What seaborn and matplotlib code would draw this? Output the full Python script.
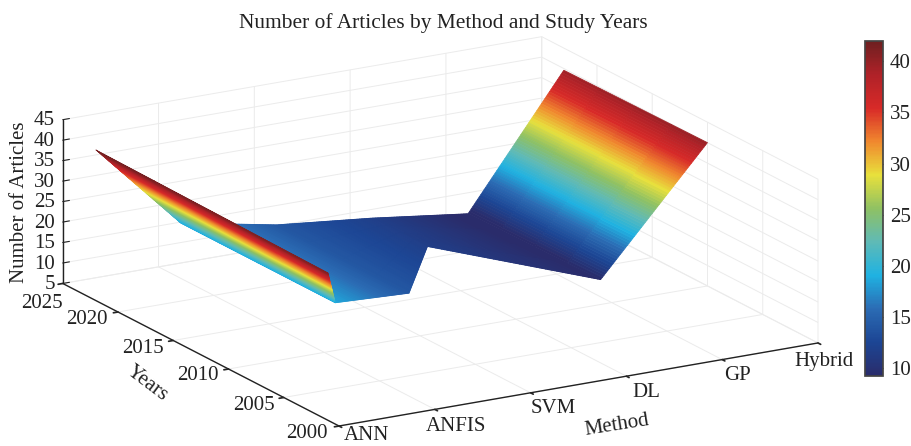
import numpy as np
import pandas as pd
import seaborn as sns
import matplotlib.pyplot as plt
from matplotlib.cm import ScalarMappable
from matplotlib.colors import Normalize
from mpl_toolkits.mplot3d import proj3d

methods = ['ANN', 'ANFIS', 'SVM', 'DL', 'GP', 'Hybrid']
first_year = [2001, 2009, 2011, 2018, 2011, 2010]
last_year = [2022, 2023, 2023, 2023, 2023, 2023]
articles_first = [41.0, 18.5, 14.0, 11.6, 9.2, 40.0]
articles_last = [41.8, 18.5, 14.0, 11.6, 8.6, 39.6]
year_ticks = [2000, 2005, 2010, 2015, 2020, 2025]
article_ticks = [5, 10, 15, 20, 25, 30, 35, 40, 45]
bar_ticks = [10, 15, 20, 25, 30, 35, 40]
color_stops = ['#2a2c6b', '#1c4594', '#2b6cb4', '#1fb2e2', '#5fbab6', '#8fc163',
               '#e8e03c', '#f0882e', '#d82a28', '#b02228', '#6e1f20']

# pixel nudges of the tick labels from their ticks
method_dx = [27, 21, 23, 20, 15, 6]
method_dy = [10, 17, 16, 16, 16, 19]
year_dx = [-32, -30, -31, -30, -31, -21]
year_dy = [7, 8, 7, 8, 8, 20]

sns.set_theme(style='white')
plt.rcParams['font.family'] = ['Liberation Serif', 'DejaVu Serif']
plt.rcParams['axes.unicode_minus'] = False
INK = '#222222'

df = pd.DataFrame({'method': methods, 'first': first_year, 'last': last_year,
                   'z_first': articles_first, 'z_last': articles_last})
df['pos'] = np.arange(len(df))

cmap = sns.blend_palette(color_stops, n_colors=256, as_cmap=True)
norm = Normalize(vmin=9.2, vmax=42.0)

W, H = 912, 446
fig = plt.figure(figsize=(W / 100, H / 100), dpi=100)
side = 1200
ax = fig.add_axes([(W - side) / 2 / W, (H - side) / 2 / H, side / W, side / H],
                  projection='3d', proj_type='ortho')
ax.patch.set_alpha(0)
ax.view_init(elev=17.4, azim=-120.1)
ax.set_xlim(0, 5, view_margin=0)
ax.set_ylim(2000, 2025, view_margin=0)
ax.set_zlim(5, 45, view_margin=0)


def to_px(x, y, z):
    xs, ys, _ = proj3d.proj_transform(x, y, z, ax.get_proj())
    return ax.transData.transform((xs, ys))


def tick_label(x, y, z, dx, dy, s, **kw):
    px, py = to_px(x, y, z)
    fig.text((px + dx) / W, (py - dy) / H, s, fontsize=15, color=INK, va='center', **kw)


# fit the box onto the corners of the reference
aspect = (1, 0.995, 0.31)
ax.set_box_aspect(aspect, zoom=1)
ax.apply_aspect()
a = to_px(0, 2000, 5)
b = to_px(5, 2000, 5)
zoom = np.hypot(479, 83) / np.hypot(*(b - a))
ax.set_box_aspect(aspect, zoom=zoom)
a = to_px(0, 2000, 5)
shift = np.array([339, H - 426]) - a
p = ax.get_position()
ax.set_position([p.x0 + shift[0] / W, p.y0 + shift[1] / H, p.width, p.height])
ax.apply_aspect()

# fine mesh only so the colour runs smoothly over the faces
pos_fine = np.linspace(0, 5, 301)
t = np.linspace(0, 1, 5)
start = np.interp(pos_fine, df['pos'], df['first'])
stop = np.interp(pos_fine, df['pos'], df['last'])
z0 = np.interp(pos_fine, df['pos'], df['z_first'])
z1 = np.interp(pos_fine, df['pos'], df['z_last'])
X = np.tile(pos_fine, (len(t), 1))
Y = np.outer(1 - t, start) + np.outer(t, stop)
Z = np.outer(1 - t, z0) + np.outer(t, z1)
surf = ax.plot_surface(X, Y, Z, cmap=cmap, norm=norm, rstride=1, cstride=1,
                       linewidth=0, antialiased=True, shade=False)
surf.set_edgecolor('face')
surf.set_linewidth(0.5)

ax.set_xticks(df['pos'])
ax.set_xticklabels([])
ax.set_yticks(year_ticks)
ax.set_yticklabels([])
ax.set_zticks(article_ticks)
ax.set_zticklabels([])

for axis in [ax.xaxis, ax.yaxis, ax.zaxis]:
    axis.set_pane_color((1, 1, 1, 0))
    axis.pane.set_edgecolor('#e8e8e8')
    axis.line.set_color(INK)
    axis.line.set_linewidth(1.0)
    axis._axinfo['grid'].update(color='#ebebeb', linewidth=0.7)
    axis._axinfo['tick'].update(inward_factor=0.12, outward_factor=0.0, color=INK)
ax.grid(True)

# z axis sits on the left corner here, mplot3d would put it on the right
ax.zaxis.line.set_color((0, 0, 0, 0))
ax.zaxis.set_ticks_position('none')
ax.plot([0, 0], [2025, 2025], [5, 45], color=INK, lw=1.0)
for v in article_ticks:
    ax.plot([0, 0.07], [2025, 2025], [v, v], color=INK, lw=0.8)
    tick_label(0, 2025, v, -8, 1, str(v), ha='right')

for i, m in enumerate(methods):
    tick_label(i, 2000, 5, method_dx[i], method_dy[i], m, ha='center')
for i, y in enumerate(year_ticks):
    tick_label(0, y, 5, year_dx[i], year_dy[i], str(y), ha='center')

fig.text(617 / W, 1 - 425 / H, 'Method', fontsize=15, rotation=9, ha='center', va='center', color=INK)
fig.text(147 / W, 1 - 384 / H, 'Years', fontsize=15, rotation=-37, ha='center', va='center', color=INK)
fig.text(20 / W, 1 - 202 / H, 'Number of Articles', fontsize=15, rotation=90, ha='center', va='center', color=INK)
fig.text(443 / W, 1 - 23 / H, 'Number of Articles by Method and Study Years',
         fontsize=15.4, ha='center', va='center', color=INK)

cax = fig.add_axes([865 / W, 1 - 376 / H, 18 / W, 335 / H])
bar = fig.colorbar(ScalarMappable(norm=norm, cmap=cmap), cax=cax)
bar.set_ticks(bar_ticks)
cax.tick_params(direction='in', length=5, width=0.8, labelsize=15, colors=INK, right=True, pad=5)
bar.outline.set_edgecolor('#444444')

fig.savefig('out.png', dpi=100)
